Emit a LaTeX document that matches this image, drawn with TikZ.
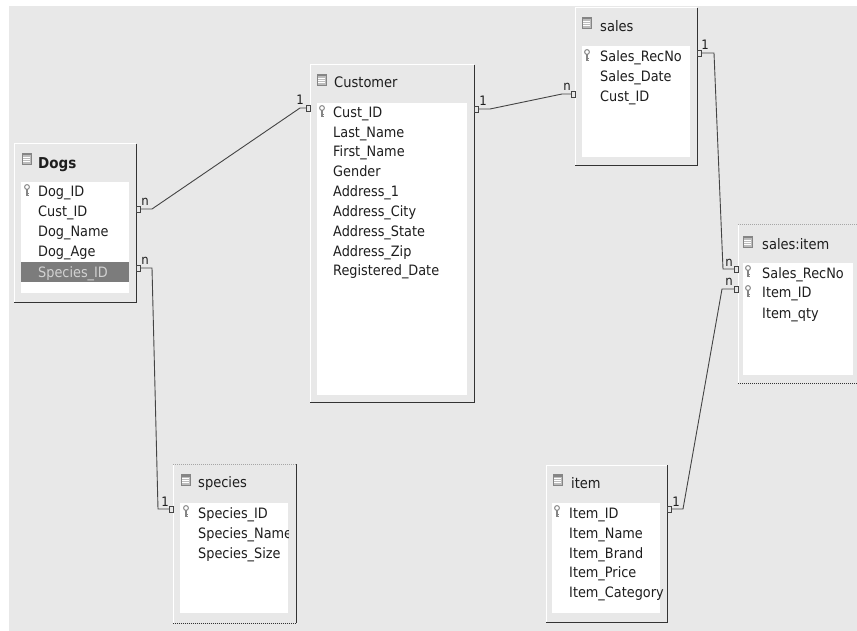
\documentclass[tikz,border=0pt]{standalone}
\usepackage{fontspec}
\setmainfont{DejaVu Sans}[FakeStretch=0.9]
\definecolor{bg}{HTML}{E8E8E8}
\definecolor{edgec}{HTML}{333333}
\definecolor{wirec}{HTML}{444444}
\definecolor{keyc}{HTML}{858585}
\definecolor{txt}{HTML}{1E1E1E}
\definecolor{selrow}{HTML}{7C7C7C}
\tikzset{
  tabbox/.style={fill=bg, draw=none, inner sep=0, anchor=north west},
  fieldarea/.style={fill=white, draw=none, inner sep=0, anchor=north west},
  fld/.style={anchor=base west, inner sep=0, font=\fontsize{14.3}{16}\selectfont, text=txt},
  ttl/.style={anchor=base west, inner sep=0, font=\fontsize{14.5}{16}\selectfont, text=txt},
  card/.style={anchor=base, inner sep=0, font=\fontsize{13}{14}\selectfont, text=txt},
  wire/.style={draw=wirec, line width=0.9pt},
  stub/.style={draw=wirec, line width=0.7pt},
  hiedge/.style={draw=white, line width=1pt},
  loedge/.style={draw=edgec, line width=1.6pt},
  dotedge/.style={draw=edgec, line width=1.2pt, dash pattern=on 1pt off 1pt},
  dotlight/.style={draw=gray!70, line width=1pt, dash pattern=on 1pt off 1pt},
}
\newcommand\tabicon[1]{%
  \begin{scope}[shift={(#1)}]
    \fill[keyc!55] (0,0) rectangle (9,11);
    \fill[keyc] (0,0) rectangle (9,2.5);
    \foreach \yy in {4.5,6.5,8.5} \draw[white, line width=0.6pt] (1,\yy) -- (8,\yy);
    \draw[keyc, line width=0.5pt] (0,0) rectangle (9,11);
  \end{scope}}
\newcommand\keyicon[1]{%
  \begin{scope}[shift={(#1)}]
    \draw[keyc, line width=1pt] (0,0) circle (2.4pt);
    \draw[keyc, line width=1.3pt] (0,2.4) -- (0,9);
    \draw[keyc, line width=0.9pt] (0,6) -- (2,6) (0,8) -- (2,8);
  \end{scope}}
\newcommand\stubR[1]{\draw[stub] (#1) ++(0,-3) rectangle ++(4,6);}
\newcommand\stubL[1]{\draw[stub] (#1) ++(-4,-3) rectangle ++(4,6);}
\begin{document}
\begin{tikzpicture}[x=1pt, y=-1pt]
\useasboundingbox (0,0) rectangle (857,631);
\clip (0,0) rectangle (857,631);
\fill[white] (0,0) rectangle (857,631);
\fill[bg] (9,6) rectangle (857,631);

% ---------- Dogs ----------
\node[tabbox, minimum width=122pt, minimum height=158pt] (dogs) at (14,144) {};
\draw[hiedge] (dogs.south west) -- (dogs.north west) -- (dogs.north east);
\draw[loedge] (dogs.north east) -- (dogs.south east) -- (dogs.south west);
\node[fieldarea, minimum width=108pt, minimum height=111pt] (dogsF) at (21,182) {};
\fill[selrow] (21,262) rectangle (129,282);
\tabicon{22,153}
\node[ttl, font=\fontsize{15}{16}\bfseries] (dogsT) at (38,169) {Dogs};
\keyicon{27,187}
\node[fld] (dg1) at (38,197) {Dog\_ID};
\node[fld] (dg2) at (38,217) {Cust\_ID};
\node[fld] (dg3) at (38,237) {Dog\_Name};
\node[fld] (dg4) at (38,257) {Dog\_Age};
\node[fld, text=gray!35] (dg5) at (38,277) {Species\_ID};

% ---------- Customer ----------
\node[tabbox, minimum width=164pt, minimum height=337pt] (cust) at (310,65) {};
\draw[hiedge] (cust.south west) -- (cust.north west) -- (cust.north east);
\draw[loedge] (cust.north east) -- (cust.south east) -- (cust.south west);
\node[fieldarea, minimum width=150pt, minimum height=292pt] (custF) at (317,103) {};
\tabicon{317,74}
\node[ttl] (custT) at (334,88) {Customer};
\keyicon{322,108}
\node[fld] (cu1) at (333,118) {Cust\_ID};
\node[fld] (cu2) at (333,138) {Last\_Name};
\node[fld] (cu3) at (333,157) {First\_Name};
\node[fld] (cu4) at (333,177) {Gender};
\node[fld] (cu5) at (333,197) {Address\_1};
\node[fld] (cu6) at (333,217) {Address\_City};
\node[fld] (cu7) at (333,237) {Address\_State};
\node[fld] (cu8) at (333,257) {Address\_Zip};
\node[fld] (cu9) at (333,276) {Registered\_Date};

% ---------- sales ----------
\node[tabbox, minimum width=122pt, minimum height=157pt] (sales) at (575,8) {};
\draw[hiedge] (sales.south west) -- (sales.north west) -- (sales.north east);
\draw[loedge] (sales.north east) -- (sales.south east) -- (sales.south west);
\node[fieldarea, minimum width=108pt, minimum height=111pt] (salesF) at (582,46) {};
\tabicon{582,17}
\node[ttl] (salesT) at (600,32) {sales};
\keyicon{587,52}
\node[fld] (sa1) at (600,62) {Sales\_RecNo};
\node[fld] (sa2) at (600,82) {Sales\_Date};
\node[fld] (sa3) at (600,102) {Cust\_ID};

% ---------- sales:item ----------
\node[tabbox, minimum width=130pt, minimum height=158pt] (si) at (738,225) {};
\draw[hiedge] (si.south west) -- (si.north west);
\draw[dotlight] (si.north west) -- (si.north east);
\draw[dotedge] (si.south west) -- (si.south east);
\node[fieldarea, minimum width=110pt, minimum height=112pt] (siF) at (743,263) {};
\tabicon{743,236}
\node[ttl] (siT) at (762,250) {sales:item};
\keyicon{748,268}
\keyicon{748,288}
\node[fld] (si1) at (762,278) {Sales\_RecNo};
\node[fld] (si2) at (762,298) {Item\_ID};
\node[fld] (si3) at (762,318) {Item\_qty};

% ---------- item ----------
\node[tabbox, minimum width=121pt, minimum height=157pt] (item) at (546,465) {};
\draw[hiedge] (item.south west) -- (item.north west) -- (item.north east);
\draw[loedge] (item.north east) -- (item.south east) -- (item.south west);
\node[fieldarea, minimum width=108pt, minimum height=110pt] (itemF) at (552,503) {};
\tabicon{553,474}
\node[ttl] (itemT) at (571,488) {item};
\keyicon{557,508}
\node[fld] (it1) at (569,518) {Item\_ID};
\node[fld] (it2) at (569,538) {Item\_Name};
\node[fld] (it3) at (569,558) {Item\_Brand};
\node[fld] (it4) at (569,577) {Item\_Price};
\node[fld] (it5) at (569,597) {Item\_Category};

% ---------- species ----------
\node[tabbox, minimum width=123pt, minimum height=159pt] (spec) at (173,464) {};
\draw[hiedge] (spec.south west) -- (spec.north west);
\draw[dotlight] (spec.north west) -- (spec.north east);
\draw[loedge] (spec.north east) -- (spec.south east);
\draw[dotedge] (spec.south east) -- (spec.south west);
\node[fieldarea, minimum width=108pt, minimum height=110pt] (specF) at (180,503) {};
\tabicon{181,474}
\node[ttl] (specT) at (198,487) {species};
\keyicon{186,508}
\begin{scope}
  \clip (180,503) rectangle (288,613);
  \node[fld] (sp1) at (198,518) {Species\_ID};
  \node[fld] (sp2) at (198,538) {Species\_Name};
  \node[fld] (sp3) at (198,558) {Species\_Size};
\end{scope}

% ---------- connectors ----------
% Dogs.Cust_ID (n) -- Customer.Cust_ID (1)
\stubR{dogs.east |- 0,209}
\stubL{cust.west |- 0,108}
\draw[wire] ([xshift=4pt]dogs.east |- 0,209) -- (152,209) -- (300,108) -- ([xshift=-4pt]cust.west |- 0,108);
\node[card] (l1) at (145,206) {n};
\node[card] (l2) at (300,105) {1};

% Customer.Cust_ID (1) -- sales.Cust_ID (n)
\stubR{cust.east |- 0,109}
\stubL{sales.west |- 0,94}
\draw[wire] ([xshift=4pt]cust.east |- 0,109) -- (490,109) -- (562,94) -- ([xshift=-4pt]sales.west |- 0,94);
\node[card] (l3) at (483,106) {1};
\node[card] (l4) at (567,91) {n};

% sales.Sales_RecNo (1) -- sales:item.Sales_RecNo (n)
\stubR{sales.east |- 0,53}
\stubL{si.west |- 0,269}
\draw[wire] ([xshift=4pt]sales.east |- 0,53) -- (714,53) -- (723,269) -- ([xshift=-4pt]si.west |- 0,269);
\node[card] (l5) at (705,50) {1};
\node[card] (l6) at (729,266) {n};

% item.Item_ID (1) -- sales:item.Item_ID (n)
\stubR{item.east |- 0,509}
\stubL{si.west |- 0,289}
\draw[wire] ([xshift=4pt]item.east |- 0,509) -- (683,509) -- (722,289) -- ([xshift=-4pt]si.west |- 0,289);
\node[card] (l7) at (676,506) {1};
\node[card] (l8) at (729,286) {n};

% Dogs.Species_ID (n) -- species.Species_ID (1)
\stubR{dogs.east |- 0,268}
\stubL{spec.west |- 0,509}
\draw[wire] ([xshift=4pt]dogs.east |- 0,268) -- (152,268) -- (158,509) -- ([xshift=-4pt]spec.west |- 0,509);
\node[card] (l9) at (145,265) {n};
\node[card] (l10) at (165,506) {1};
\end{tikzpicture}
\end{document}
